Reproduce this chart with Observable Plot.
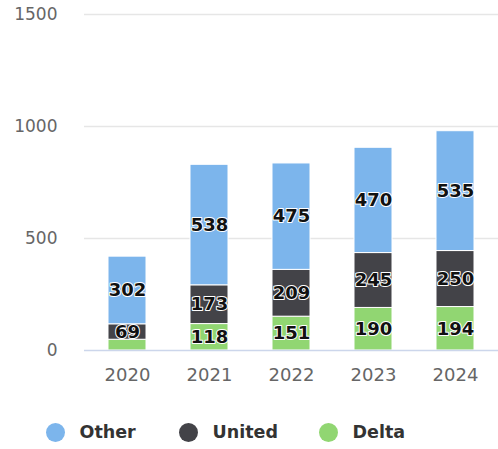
<!DOCTYPE html>
<html>
<head>
<meta charset="utf-8">
<script src="https://cdn.jsdelivr.net/npm/d3@7"></script>
<script src="https://cdn.jsdelivr.net/npm/@observablehq/plot@0.6"></script>
<style>
  body { margin: 0; background: #fff; font-family: "DejaVu Sans", sans-serif; }
  #legend { position: relative; height: 54px; }
  .item { position: absolute; top: 27px; display: flex; align-items: center; height: 20px; }
  .dot { width: 19px; height: 19px; border-radius: 50%; margin-right: 15px; }
  .lab { font-weight: bold; font-size: 17.5px; color: #333; }
</style>
</head>
<body>
<div id="chart"></div>
<div id="legend"></div>
<script>
const years = ["2020", "2021", "2022", "2023", "2024"];
const delta = [48, 118, 151, 190, 194];
const united = [69, 173, 209, 245, 250];
const other = [302, 538, 475, 470, 535];
const seriesNames = ["Other", "United", "Delta"];
const seriesColors = ["#7cb5ec", "#434348", "#91d672"];
const yTicks = [0, 500, 1000, 1500];

const table = [];
years.forEach((yr, i) => {
  table.push({year: yr, airline: "Delta", value: delta[i]});
  table.push({year: yr, airline: "United", value: united[i]});
  table.push({year: yr, airline: "Other", value: other[i]});
});
const stackOrder = ["Delta", "United", "Other"];
// labels are hidden when the segment is too short to hold them
const minLabelValue = 60;

const chart = Plot.plot({
  width: 498,
  height: 395,
  marginLeft: 84,
  marginRight: 0,
  marginTop: 14,
  marginBottom: 45,
  style: {fontFamily: "DejaVu Sans, sans-serif", background: "white"},
  x: {domain: years, paddingInner: 0.54, paddingOuter: 0.27, label: null},
  y: {domain: [0, 1500], label: null},
  color: {domain: seriesNames, range: seriesColors},
  marks: [
    Plot.ruleY(yTicks.filter(d => d > 0), {stroke: "#e6e6e6", strokeWidth: 1.5}),
    Plot.barY(table, Plot.stackY({x: "year", y: "value", z: "airline", fill: "airline", order: stackOrder, stroke: "white", strokeWidth: 1})),
    Plot.ruleY([0], {stroke: "#ccd6eb", strokeWidth: 1.5}),
    Plot.text(table, Plot.stackY({x: "year", y: "value", z: "airline", order: stackOrder,
      text: d => d.value >= minLabelValue ? String(d.value) : "",
      fill: "#111", stroke: "white", strokeWidth: 2, fontSize: 18, fontWeight: "bold"})),
    Plot.axisY({ticks: yTicks, tickFormat: d => String(d), tickSize: 0, tickPadding: 27, fontSize: 17, color: "#666", label: null}),
    Plot.axisX({tickSize: 0, tickPadding: 18, fontSize: 18, color: "#666", label: null})
  ]
});
document.getElementById("chart").appendChild(chart);

const lefts = [45.5, 178.5, 318.5];
const legend = document.getElementById("legend");
seriesNames.forEach((name, i) => {
  const item = document.createElement("div");
  item.className = "item";
  item.style.left = lefts[i] + "px";
  const dot = document.createElement("span");
  dot.className = "dot";
  dot.style.background = seriesColors[i];
  const lab = document.createElement("span");
  lab.className = "lab";
  lab.textContent = name;
  item.appendChild(dot);
  item.appendChild(lab);
  legend.appendChild(item);
});
</script>
</body>
</html>
